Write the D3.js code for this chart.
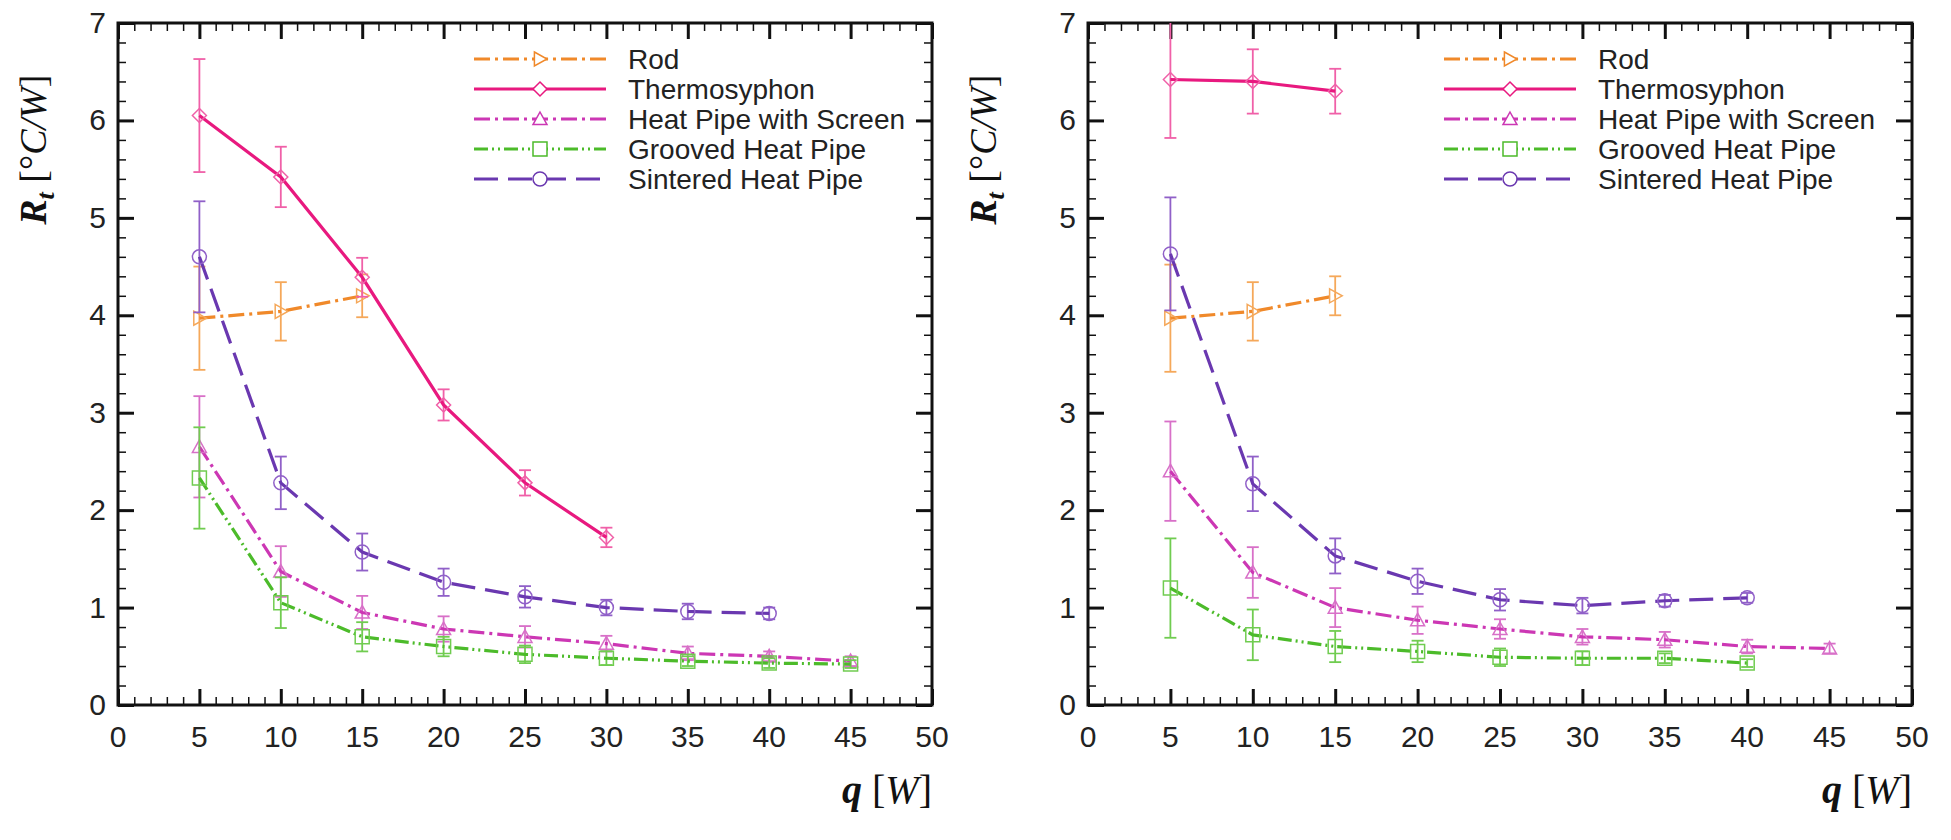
<!DOCTYPE html>
<html>
<head>
<meta charset="utf-8">
<script src="https://cdn.jsdelivr.net/npm/d3@7"></script>
<style>
  body { margin: 0; background: #fff; }
  text { font-family: "Liberation Sans", Arial, sans-serif; }
  text.serif { font-family: "Liberation Serif", "Times New Roman", serif; }
</style>
</head>
<body>
<svg id="chart" width="1951" height="840"></svg>
<script>
const seriesNames = ["Rod", "Thermosyphon", "Heat Pipe with Screen", "Grooved Heat Pipe", "Sintered Heat Pipe"];
const qValues = [5, 10, 15, 20, 25, 30, 35, 40, 45];
const xTicks = [0, 5, 10, 15, 20, 25, 30, 35, 40, 45, 50];
const yTicks = [0, 1, 2, 3, 4, 5, 6, 7];

// left panel: values and error half-ranges per series
const leftRod = [3.97, 4.04, 4.2];
const leftRodErr = [0.53, 0.3, 0.22];
const leftThermo = [6.05, 5.42, 4.39, 3.08, 2.28, 1.72];
const leftThermoErr = [0.58, 0.31, 0.2, 0.16, 0.13, 0.1];
const leftScreen = [2.65, 1.37, 0.95, 0.78, 0.7, 0.63, 0.53, 0.5, 0.45];
const leftScreenErr = [0.52, 0.26, 0.17, 0.13, 0.11, 0.08, 0.07, 0.05, 0.05];
const leftGrooved = [2.33, 1.05, 0.7, 0.6, 0.52, 0.48, 0.45, 0.43, 0.42];
const leftGroovedErr = [0.52, 0.26, 0.15, 0.1, 0.09, 0.07, 0.05, 0.05, 0.04];
const leftSintered = [4.6, 2.28, 1.57, 1.26, 1.11, 1.0, 0.96, 0.94];
const leftSinteredErr = [0.57, 0.27, 0.19, 0.14, 0.11, 0.08, 0.08, 0.06];

// right panel
const rightRod = [3.97, 4.04, 4.2];
const rightRodErr = [0.55, 0.3, 0.2];
const rightThermo = [6.42, 6.4, 6.3];
const rightThermoErr = [0.6, 0.33, 0.23];
const rightScreen = [2.4, 1.36, 1.0, 0.87, 0.78, 0.7, 0.67, 0.6, 0.58];
const rightScreenErr = [0.51, 0.26, 0.2, 0.14, 0.1, 0.08, 0.08, 0.07, 0.05];
const rightGrooved = [1.2, 0.72, 0.6, 0.55, 0.49, 0.48, 0.48, 0.43];
const rightGroovedErr = [0.51, 0.26, 0.16, 0.11, 0.09, 0.07, 0.05, 0.04];
const rightSintered = [4.63, 2.27, 1.53, 1.27, 1.08, 1.02, 1.07, 1.1];
const rightSinteredErr = [0.58, 0.28, 0.18, 0.13, 0.11, 0.08, 0.06, 0.05];

const styles = [
  { color: "#f0892a", bar: "#f5a85a", dash: "16,5,3,5", marker: "tri-right" },
  { color: "#e8197f", bar: "#f060a8", dash: null, marker: "diamond" },
  { color: "#cc37b4", bar: "#d870c8", dash: "16,5,3,5", marker: "triangle" },
  { color: "#4cbb2a", bar: "#70cc50", dash: "14,4,2,4,2,4", marker: "square" },
  { color: "#6a38b0", bar: "#9060c8", dash: "24,10", marker: "circle" }
];

const svg = d3.select("#chart");

function markerPath(type, r) {
  switch (type) {
    case "diamond": return `M0,${-r}L${r},0L0,${r}L${-r},0Z`;
    case "triangle": return `M0,${-r}L${r},${r * 0.8}L${-r},${r * 0.8}Z`;
    case "tri-right": return `M${-r * 0.8},${-r}L${r},0L${-r * 0.8},${r}Z`;
    case "square": return `M${-r},${-r}H${r}V${r}H${-r}Z`;
    default: return d3.symbol(d3.symbolCircle, Math.PI * r * r)();
  }
}

function panel(left, top, w, h, data, labelX) {
  const g = svg.append("g").attr("transform", `translate(${left},${top})`);
  const x = d3.scaleLinear().domain([0, 50]).range([0, w]);
  const y = d3.scaleLinear().domain([0, 7]).range([h, 0]);

  // minor and major ticks on all four sides, pointing inward
  const tick = (scale, vals, len, orient) => {
    const ax = orient === "bottom" ? d3.axisTop(scale) : orient === "top" ? d3.axisBottom(scale)
      : orient === "left" ? d3.axisRight(scale) : d3.axisLeft(scale);
    ax.tickValues(vals).tickSize(len).tickFormat("");
    const t = orient === "bottom" ? `translate(0,${h})` : orient === "right" ? `translate(${w},0)` : null;
    const a = g.append("g").call(ax);
    if (t) a.attr("transform", t);
    a.select(".domain").remove();
    a.selectAll("line").attr("stroke", "#111").attr("stroke-width", len > 10 ? 3 : 1.5);
  };
  const xMinor = d3.range(0, 50.01, 1);
  const yMinor = d3.range(0, 7.01, 0.2);
  ["bottom", "top"].forEach(o => { tick(x, xMinor, 8, o); tick(x, xTicks, 16, o); });
  ["left", "right"].forEach(o => { tick(y, yMinor, 8, o); tick(y, yTicks, 16, o); });

  g.append("rect").attr("width", w).attr("height", h)
    .attr("fill", "none").attr("stroke", "#111").attr("stroke-width", 3);

  g.selectAll(".xl").data(xTicks).enter().append("text")
    .attr("x", d => x(d)).attr("y", h + 42).attr("text-anchor", "middle")
    .attr("font-size", 30).attr("fill", "#222").text(d => d);
  g.selectAll(".yl").data(yTicks).enter().append("text")
    .attr("x", -12).attr("y", d => y(d) + 10).attr("text-anchor", "end")
    .attr("font-size", 30).attr("fill", "#222").text(d => d);

  // axis titles
  const yt = g.append("text").attr("class", "serif")
    .attr("transform", `translate(${labelX},${y(5.7)}) rotate(-90)`)
    .attr("text-anchor", "middle")
    .attr("font-size", 38).attr("fill", "#111");
  yt.append("tspan").attr("font-weight", "bold").attr("font-style", "italic").text("R");
  yt.append("tspan").attr("font-weight", "bold").attr("font-style", "italic").attr("font-size", 26).attr("dy", 8).text("t");
  yt.append("tspan").attr("dy", -8).text(" [°");
  yt.append("tspan").attr("font-style", "italic").text("C/W");
  yt.append("tspan").text("]");

  const xt = g.append("text").attr("class", "serif").attr("x", w).attr("y", h + 98).attr("text-anchor", "end")
    .attr("font-size", 40).attr("fill", "#111");
  xt.append("tspan").attr("font-weight", "bold").attr("font-style", "italic").text("q ");
  xt.append("tspan").text(" [");
  xt.append("tspan").attr("font-style", "italic").text("W");
  xt.append("tspan").text("]");

  const clip = "clip" + left;
  g.append("clipPath").attr("id", clip).append("rect").attr("width", w).attr("height", h);
  const plot = g.append("g").attr("clip-path", `url(#${clip})`);

  data.forEach((s, i) => {
    const st = styles[i];
    const pts = s.vals.map((v, k) => ({ q: qValues[k], v, e: s.errs[k] }));
    const eb = plot.append("g").attr("stroke", st.bar).attr("stroke-width", 1.8);
    pts.forEach(p => {
      eb.append("line").attr("x1", x(p.q)).attr("x2", x(p.q)).attr("y1", y(p.v - p.e)).attr("y2", y(p.v + p.e));
      [p.v - p.e, p.v + p.e].forEach(yy => eb.append("line")
        .attr("x1", x(p.q) - 6).attr("x2", x(p.q) + 6).attr("y1", y(yy)).attr("y2", y(yy)));
    });
    plot.append("path").datum(pts)
      .attr("d", d3.line().x(d => x(d.q)).y(d => y(d.v)))
      .attr("fill", "none").attr("stroke", st.color).attr("stroke-width", 3.2)
      .attr("stroke-dasharray", st.dash);
    plot.selectAll(null).data(pts).enter().append("path")
      .attr("transform", d => `translate(${x(d.q)},${y(d.v)})`)
      .attr("d", markerPath(st.marker, 7))
      .attr("fill", "none").attr("stroke", st.bar).attr("stroke-width", 1.5);
  });

  // legend
  const lx = 356, ly = 36;
  seriesNames.forEach((name, i) => {
    const st = styles[i];
    const row = g.append("g").attr("transform", `translate(${lx},${ly + i * 30})`);
    row.append("line").attr("x1", 0).attr("x2", 132)
      .attr("stroke", st.color).attr("stroke-width", 3.2).attr("stroke-dasharray", st.dash);
    row.append("path").attr("transform", "translate(66,0)").attr("d", markerPath(st.marker, 7))
      .attr("fill", "#fff").attr("stroke", st.color).attr("stroke-width", 1.5);
    row.append("text").attr("x", 154).attr("y", 10).attr("font-size", 28).attr("fill", "#222").text(name);
  });
}

const leftData = [
  { vals: leftRod, errs: leftRodErr },
  { vals: leftThermo, errs: leftThermoErr },
  { vals: leftScreen, errs: leftScreenErr },
  { vals: leftGrooved, errs: leftGroovedErr },
  { vals: leftSintered, errs: leftSinteredErr }
];
const rightData = [
  { vals: rightRod, errs: rightRodErr },
  { vals: rightThermo, errs: rightThermoErr },
  { vals: rightScreen, errs: rightScreenErr },
  { vals: rightGrooved, errs: rightGroovedErr },
  { vals: rightSintered, errs: rightSinteredErr }
];

panel(118, 23, 814, 682, leftData, -72);
panel(1088, 23, 824, 682, rightData, -92);
</script>
</body>
</html>
